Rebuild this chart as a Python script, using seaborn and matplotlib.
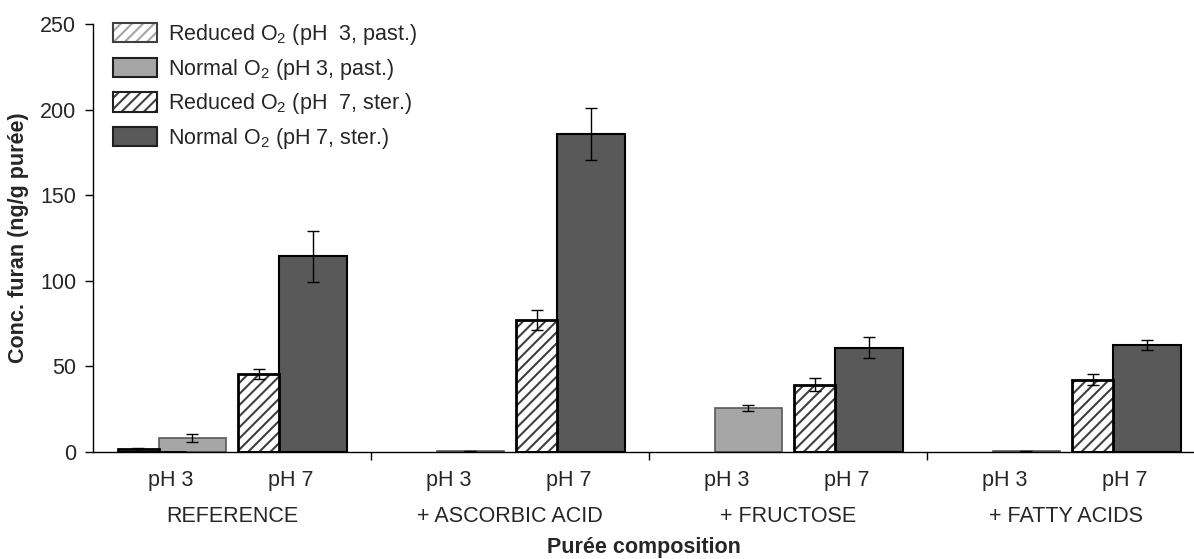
import numpy as np
import matplotlib
matplotlib.use('Agg')
import matplotlib.pyplot as plt
import seaborn as sns
from matplotlib.patches import Patch

# -----------------------------------------------------------------------------
# Data
# -----------------------------------------------------------------------------
categories = ['REFERENCE', '+ ASCORBIC ACID', '+ FRUCTOSE', '+ FATTY ACIDS']
ph_labels = ['pH 3', 'pH 7']

red_ph3 = [1.5, np.nan, np.nan, np.nan]
red_ph3_err = [1.0, np.nan, np.nan, np.nan]
norm_ph3 = [8.3, 0.5, 25.7, 0.4]
norm_ph3_err = [2.3, 0.3, 1.8, 0.3]
red_ph7 = [45.5, 77.0, 39.3, 42.3]
red_ph7_err = [2.9, 5.8, 3.8, 3.2]
norm_ph7 = [114.2, 186.0, 61.0, 62.5]
norm_ph7_err = [14.8, 15.2, 6.0, 3.0]
# empty (zero) bars that Excel drew as flat lines on the baseline
zero_ph3 = [0, np.nan, np.nan, np.nan]
zero_ph7 = [0, 0, 0, 0]

series_names = [r'Reduced O$_{\mathregular{2}}$ (pH  3, past.)',
                r'Normal O$_{\mathregular{2}}$ (pH 3, past.)',
                r'Reduced O$_{\mathregular{2}}$ (pH  7, ster.)',
                r'Normal O$_{\mathregular{2}}$ (pH 7, ster.)']

if __name__ == '__main__':
    sns.set_theme(style='white')
    plt.rcParams['font.family'] = ['Liberation Sans', 'DejaVu Sans']
    plt.rcParams['mathtext.fontset'] = 'custom'
    plt.rcParams['mathtext.rm'] = 'Liberation Sans'
    plt.rcParams['mathtext.it'] = 'Liberation Sans:italic'
    plt.rcParams['mathtext.bf'] = 'Liberation Sans:bold'
    plt.rcParams['hatch.linewidth'] = 1.5
    fs = 15.5

    W, H = 1194, 559
    fig = plt.figure(figsize=(W / 100, H / 100), dpi=100)
    x0, x1, y_top, y_bot = 93, W, 24, 452
    ax = fig.add_axes([x0 / W, 1 - y_bot / H, (x1 - x0) / W, (y_bot - y_top) / H])

    grp = np.arange(len(categories))
    # (left offset, width) of each bar inside one group of width 1
    lay = {'red3': (0.090, 0.147), 'norm3': (0.237, 0.241), 'zero3': (0.090, 0.245),
           'red7': (0.522, 0.147), 'norm7': (0.669, 0.245), 'zero7': (0.522, 0.245)}

    light_hatch, light_face, light_edge = '#a6a6a6', '#a6a6a6', '#595959'
    dark_hatch, dark_face = '#404040', '#595959'

    def hatched(key, vals, hcol, ecol, lw):
        off, w = lay[key]
        ax.bar(grp + off, vals, width=w, align='edge', color='white',
               edgecolor=hcol, hatch='///', linewidth=0, zorder=2)
        ax.bar(grp + off, vals, width=w, align='edge', fill=False,
               edgecolor=ecol, linewidth=lw, zorder=3)

    def solid(key, vals, face, ecol, lw):
        off, w = lay[key]
        ax.bar(grp + off, vals, width=w, align='edge', color=face,
               edgecolor=ecol, linewidth=lw, zorder=2)

    solid('norm3', norm_ph3, light_face, light_edge, 1.2)
    hatched('red3', red_ph3, light_hatch, '#000000', 2.0)
    solid('norm7', norm_ph7, dark_face, '#000000', 1.5)
    hatched('red7', red_ph7, dark_hatch, '#000000', 2.0)
    solid('zero3', zero_ph3, 'white', '#000000', 2.0)
    solid('zero7', zero_ph7, 'white', '#000000', 2.0)

    for key, vals, err in [('red3', red_ph3, red_ph3_err), ('norm3', norm_ph3, norm_ph3_err),
                           ('red7', red_ph7, red_ph7_err), ('norm7', norm_ph7, norm_ph7_err)]:
        off, w = lay[key]
        ax.errorbar(grp + off + w / 2, vals, yerr=err, fmt='none', ecolor='black',
                    elinewidth=1.0, capsize=4.5, capthick=1.0, zorder=4)

    # axes
    ax.set_ylim(0, 250)
    ax.set_xlim(0, (x1 - x0) / 278)
    ax.set_yticks(np.arange(0, 251, 50))
    ax.set_xticks([1, 2, 3])
    ax.set_xticklabels([])
    ax.set_xticks([g + p for g in grp for p in (0.28, 0.712)], minor=True)
    ax.set_xticklabels(ph_labels * len(categories), minor=True, fontsize=fs)
    ax.tick_params(axis='x', which='major', direction='out', length=6, width=1,
                   color='black', bottom=True)
    ax.tick_params(axis='x', which='minor', length=0, pad=13, bottom=True)
    ax.tick_params(axis='y', direction='out', length=6, width=1, color='black',
                   labelsize=fs, pad=6, left=True)
    sns.despine(ax=ax)
    for s in ('left', 'bottom'):
        ax.spines[s].set_color('black')
        ax.spines[s].set_linewidth(1.0)
    ax.spines['left'].set_zorder(5)

    for g, name in zip(grp, categories):
        ax.text(g + 0.5, -(517 - y_bot) / (y_bot - y_top), name,
                transform=ax.get_xaxis_transform(), ha='center', va='center',
                fontsize=fs)
    ax.set_xlabel('Purée composition', fontsize=fs, fontweight='bold', labelpad=33)
    ax.set_ylabel('Conc. furan (ng/g purée)', fontsize=fs, fontweight='bold', labelpad=8)

    handles = [
        (Patch(facecolor='white', edgecolor=light_hatch, hatch='///', linewidth=0),
         Patch(fill=False, edgecolor='#404040', linewidth=1.5)),
        Patch(facecolor=light_face, edgecolor='#202020', linewidth=1.5),
        (Patch(facecolor='white', edgecolor=dark_hatch, hatch='///', linewidth=0),
         Patch(fill=False, edgecolor='#202020', linewidth=1.5)),
        Patch(facecolor=dark_face, edgecolor='#202020', linewidth=1.5),
    ]
    fig.legend(handles, series_names, loc='upper left',
               bbox_to_anchor=(113 / W, 1 - 22 / H), frameon=False, fontsize=fs,
               handlelength=2.05, handleheight=1.0, handletextpad=0.5,
               labelspacing=0.45, borderpad=0, borderaxespad=0)

    fig.savefig('out.png', dpi=100)
